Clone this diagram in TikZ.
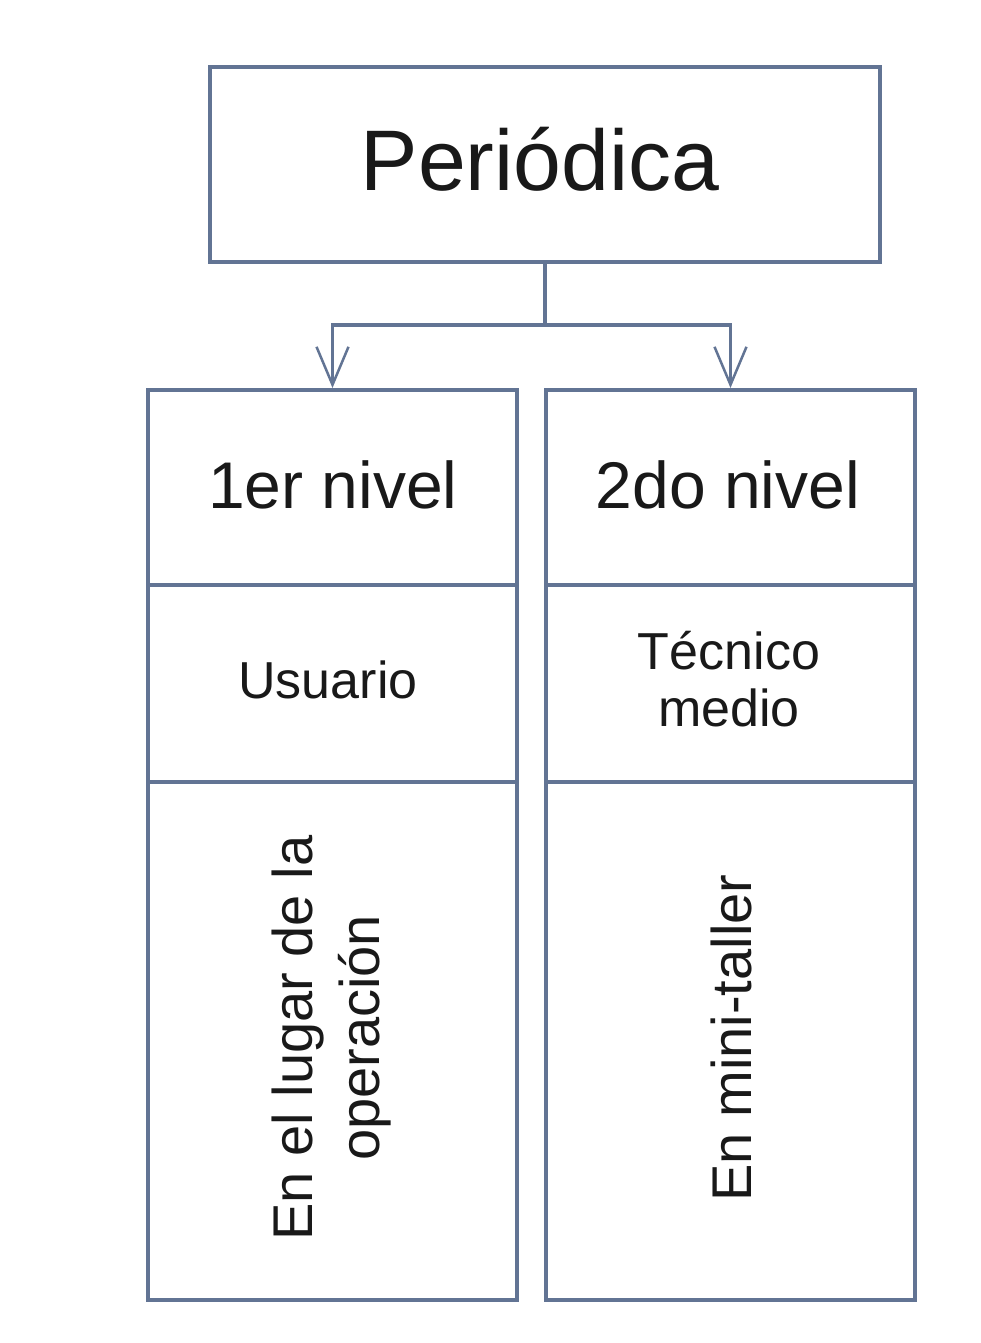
\documentclass[tikz,border=0pt]{standalone}
\usepackage{fontspec}
\setmainfont{Liberation Sans}
\usetikzlibrary{arrows.meta}
\definecolor{lc}{RGB}{98,116,148}
\begin{document}
\begin{tikzpicture}[x=1pt,y=-1pt,
  box/.style={draw=lc, line width=4pt, fill=white, inner sep=0pt, minimum width=#1},
  box/.default=369pt,
  txt/.style={inner sep=0pt, text=black!90},
  arr/.style={draw=lc, line width=3.5pt, -{Straight Barb[length=38pt,width=32pt,line width=2.5pt]}}]
\useasboundingbox[fill=white] (0,0) rectangle (980,1343);
% top box
\node[box=670pt, minimum height=195pt] (top) at (545,164.5) {};
\node[txt, anchor=base, font=\fontsize{86pt}{90pt}\selectfont] (ttop) at (540,190) {Periódica};
% left column
\node[box, minimum height=195pt] (l1) at (332.5,487.5) {};
\node[box, minimum height=197pt] (l2) at (332.5,683.5) {};
\node[box, minimum height=518pt] (l3) at (332.5,1041) {};
% right column
\node[box, minimum height=195pt] (r1) at (730.5,487.5) {};
\node[box, minimum height=197pt] (r2) at (730.5,683.5) {};
\node[box, minimum height=518pt] (r3) at (730.5,1041) {};
% texts
\node[txt, anchor=base, font=\fontsize{66pt}{70pt}\selectfont] (tl1) at (333,508) {1er nivel};
\node[txt, anchor=base, font=\fontsize{66pt}{70pt}\selectfont] (tr1) at (728,508) {2do nivel};
\node[txt, anchor=base, font=\fontsize{52pt}{57pt}\selectfont] (tl2) at (328,698) {Usuario};
\node[txt, align=center, font=\fontsize{52pt}{57pt}\selectfont] (tr2) at (729,679) {Técnico\\medio};
\node[txt, align=center, rotate=90, font=\fontsize{56pt}{67pt}\selectfont] (tl3) at (332,1038) {En el lugar de la\\operación};
\node[txt, rotate=90, font=\fontsize{56pt}{67pt}\selectfont] (tr3) at (731,1038) {En mini-taller};
% connectors
\coordinate (j) at (545,325);
\draw[draw=lc, line width=3.5pt] (top.south) -- (j);
\draw[arr] (j) -| (l1.north);
\draw[arr] (j) -| (r1.north);
\end{tikzpicture}
\end{document}
